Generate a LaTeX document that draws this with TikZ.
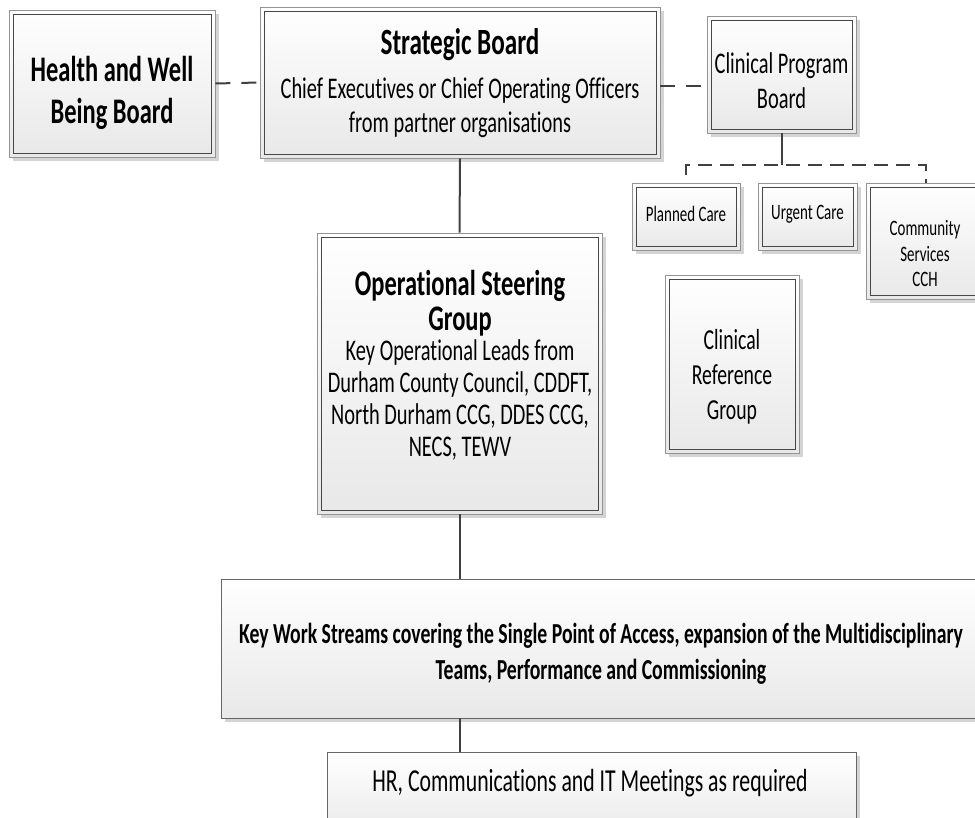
\documentclass[tikz,border=0pt]{standalone}
\usepackage{fontspec}
\setmainfont[FakeStretch=0.68, Ligatures={NoCommon}]{Carlito}
\usetikzlibrary{shadows}
\newcommand\fsz[2]{\fontsize{#1}{#2}\selectfont}
\tikzset{
  boxbase/.style={rectangle, inner sep=0pt, top color=white, bottom color=black!9,
    drop shadow={shadow xshift=4pt, shadow yshift=-4pt, fill=black!17, opacity=1}},
  dbl/.style={boxbase, draw=black!42, line width=0.9pt,
    path picture={\draw[black!72, line width=0.9pt]
      ([shift={(4pt,-4pt)}]path picture bounding box.north west) rectangle
      ([shift={(-4pt,4pt)}]path picture bounding box.south east);}},
  sgl/.style={boxbase, draw=black!60, line width=0.9pt},
  txt/.style={inner sep=0pt, align=center, text=black},
  link/.style={draw=black!75, line width=2pt},
  dlink/.style={link, dash pattern=on 15pt off 11pt},
  dbus/.style={link, dash pattern=on 14pt off 8pt},
}
\begin{document}
\begin{tikzpicture}[x=1pt,y=-1pt]
\useasboundingbox (0,0) rectangle (975,818);
% boxes
\node[dbl, minimum width=206pt, minimum height=147pt] (hwb) at (112,83.5) {};
\node[dbl, minimum width=400pt, minimum height=151pt] (sb) at (460,82.5) {};
\node[dbl, minimum width=149pt, minimum height=117pt] (cpb) at (781.5,74.5) {};
\node[dbl, minimum width=108pt, minimum height=67pt] (pc) at (686,216.5) {};
\node[dbl, minimum width=99pt, minimum height=67pt] (uc) at (807.5,216.5) {};
\node[dbl, minimum width=119pt, minimum height=116pt] (csc) at (925.5,241) {};
\node[dbl, minimum width=134pt, minimum height=178pt] (crg) at (732,364) {};
\node[dbl, minimum width=285pt, minimum height=281pt] (osg) at (459.5,373.5) {};
\node[sgl, minimum width=760pt, minimum height=139pt] (kws) at (601,648.5) {};
\node[sgl, minimum width=529pt, minimum height=88pt] (hr) at (591.5,796) {};
% texts
\node[txt, font=\bfseries\fsz{36}{42.5}] (hwbt) at (112,93) {Health and Well\\Being Board};
\node[txt, font=\fsz{30}{34}] (sbt) at (460,83)
  {{\bfseries\fsz{37}{37}Strategic Board}\\[10pt]Chief Executives or Chief Operating Officers\\from partner organisations};
\node[txt, font=\fsz{30}{35}] (cpbt) at (781.5,81) {Clinical Program\\Board};
\node[txt, font=\fsz{22}{25}] (pct) at (686,214) {Planned Care};
\node[txt, font=\fsz{22}{25}] (uct) at (807.5,214) {Urgent Care};
\node[txt, font=\fsz{22}{25.5}] (csct) at (925,254) {Community\\Services\\CCH};
\node[txt, font=\fsz{29}{35}] (crgt) at (732,377) {Clinical\\Reference\\Group};
\node[txt, font=\fsz{30}{32}] (osgt) at (460,365)
  {{\bfseries\fsz{36}{36}Operational Steering}\\[3pt]{\bfseries\fsz{36}{36}Group}\\[-2pt]
   Key Operational Leads from\\Durham County Council, CDDFT,\\North Durham CCG, DDES CCG,\\NECS, TEWV};
\node[txt, font=\bfseries\fsz{29}{36}] (kwst) at (601,654)
  {Key Work Streams covering the Single Point of Access, expansion of the Multidisciplinary\\Teams, Performance and Commissioning};
\node[txt, font=\fsz{32}{36}] (hrt) at (590,783) {HR, Communications and IT Meetings as required};
% connectors
\draw[dlink] (hwb.east) -- (sb.west);
\draw[dlink] ([yshift=-4pt]sb.east) -- ([yshift=-4pt]sb.east -| cpb.west);
\coordinate (bus) at (781.5,165);
\coordinate (pcstub) at (686,175);
\draw[link] (cpb.south) -- (bus);
\draw[dbus] (pcstub) -- (pcstub |- bus) -- (bus -| csc.north) -- (csc.north);
\draw[link] (sb.south) -- (osg.north);
\draw[link] (osg.south) -- (osg.south |- kws.north);
\draw[link] (osg.south |- kws.south) -- (osg.south |- hr.north);
\end{tikzpicture}
\end{document}
